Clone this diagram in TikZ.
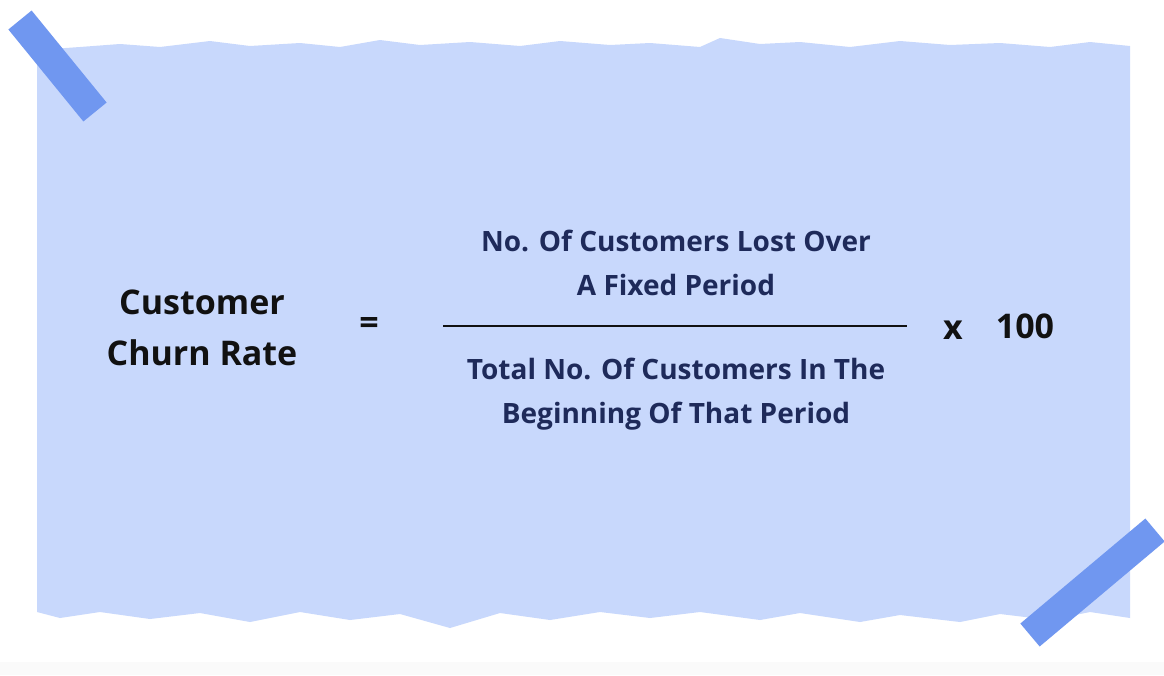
\documentclass[tikz,border=0pt]{standalone}
\usepackage{fontspec}
\setmainfont{Open Sans}
\definecolor{paper}{HTML}{C8D8FC}
\definecolor{tape}{HTML}{7097F0}
\definecolor{navy}{HTML}{1E2A5A}
\definecolor{ink}{HTML}{111111}
\begin{document}
\begin{tikzpicture}[x=1pt,y=-1pt,
  big/.style={font=\fontsize{34}{51}\selectfont\bfseries,text=ink,align=center},
  frac/.style={font=\fontsize{28}{44}\selectfont\bfseries,text=navy,align=center}]
\useasboundingbox (0,0) rectangle (1164,675);
\fill[white] (0,0) rectangle (1164,675);
\fill[gray!4] (0,662) rectangle (1164,675);
\fill[paper] (37,50) -- (80,47) -- (120,44) -- (160,47) -- (210,41) -- (250,46) -- (300,43) -- (340,47) -- (380,40) -- (420,45) -- (470,42) -- (520,46) -- (560,41) -- (610,45) -- (650,43) -- (700,47) -- (720,38) -- (760,44) -- (800,42) -- (850,47) -- (900,41) -- (950,45) -- (1000,43) -- (1050,47) -- (1090,42) -- (1130,46)
 -- (1130,618) -- (1090,612) -- (1050,620) -- (1000,614) -- (960,622) -- (900,615) -- (860,622) -- (800,613) -- (760,620) -- (700,612) -- (650,618) -- (600,612) -- (550,620) -- (500,613) -- (450,628) -- (400,614) -- (350,620) -- (300,612) -- (250,622) -- (200,613) -- (150,619) -- (100,612) -- (60,618) -- (37,612) -- cycle;
\draw[tape,line width=30pt] (20,20) -- (95,112);
\draw[tape,line width=30pt] (1030,635) -- (1155,530);
\node[big] (lhs) at (202,328) {Customer\\Churn Rate};
\node[big] (eq) at (369,326) {=};
\node[frac] (num) at (676,263) {No. Of Customers Lost Over\\A Fixed Period};
\node[frac] (den) at (676,394) {Total No. Of Customers In The\\Beginning Of That Period};
\coordinate (l1) at (443,326); \coordinate (l2) at (907,326);
\draw[ink,line width=2.4pt] (l1) -- (l2);
\node[big] (times) at (953,330) {x};
\node[big] (hund) at (1025,326) {100};
\end{tikzpicture}
\end{document}
